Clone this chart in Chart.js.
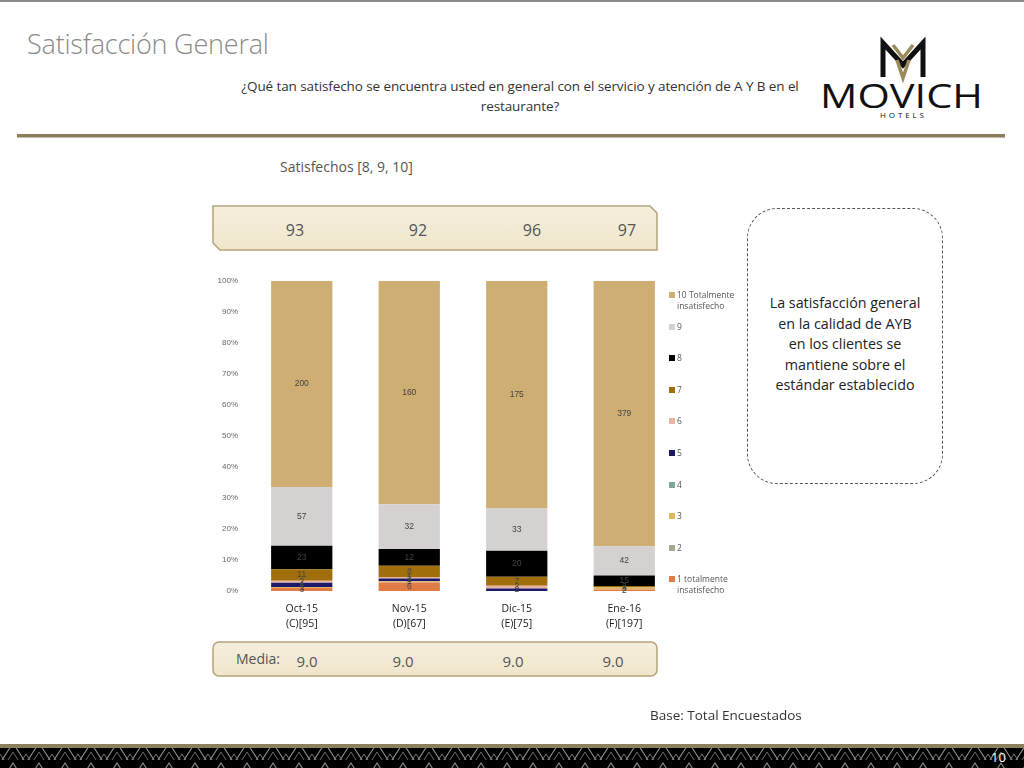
<!DOCTYPE html>
<html>
<head>
<meta charset="utf-8">
<script src="https://cdn.jsdelivr.net/npm/chart.js@4.4.1/dist/chart.umd.min.js"></script>
<style>
  html, body { margin: 0; padding: 0; background: #fff; }
  body { width: 1024px; height: 768px; position: relative; overflow: hidden; font-family: "Open Sans", sans-serif; }
  .abs { position: absolute; }
  #title { left: 27px; top: 25px; font-size: 27px; font-weight: 300; color: #8a8a8a; letter-spacing: -0.2px; }
  #question { left: 180px; top: 76px; width: 680px; text-align: center; font-size: 13.5px; line-height: 20px; color: #333; letter-spacing: -0.1px; }
  #satLabel { left: 280px; top: 157px; font-size: 14px; color: #555; }
  .topNum { top: 219px; font-size: 16px; color: #555; width: 40px; text-align: center; }
  .media { top: 651px; font-size: 15px; color: #555; width: 40px; text-align: center; }
  #mediaLbl { left: 236px; top: 649px; font-size: 14px; color: #555; }
  #chartBox { left: 200px; top: 266px; width: 480px; height: 374px; }
  #legend { left: 667px; top: 0; width: 70px; height: 768px; overflow: hidden; font-size: 8.5px; color: #555; line-height: 10.5px; }
  .lg { position: absolute; left: 0; width: 70px; white-space: nowrap; }
  .lg i { position: absolute; left: 2px; top: 2px; width: 6px; height: 6px; }
  .lg span { position: absolute; left: 10px; top: 0; }
  #note { left: 747px; top: 208px; width: 196px; height: 276px; border: 1.5px dashed #555; border-radius: 30px; box-sizing: border-box; }
  #noteText { left: 747px; top: 293px; width: 196px; text-align: center; font-size: 14.3px; line-height: 20.5px; color: #222; }
  #base { left: 650px; top: 706px; font-size: 13.5px; color: #333; }
  #pageNo { left: 991px; top: 748px; font-size: 13px; color: #fff; }
</style>
</head>
<body>
<svg class="abs" style="left:0;top:0" width="1024" height="768">
  <defs>
    <linearGradient id="cream" x1="0" y1="0" x2="0" y2="1">
      <stop offset="0" stop-color="#f4eedc"/>
      <stop offset="1" stop-color="#efe6cb"/>
    </linearGradient>
    <pattern id="zig" width="26" height="20" patternUnits="userSpaceOnUse">
      <rect width="26" height="20" fill="#000"/>
      <path d="M2,20 L13,3 L24,20" fill="none" stroke="#8a8a8a" stroke-width="1.2"/>
      <path d="M8,20 L13,12 L18,20" fill="none" stroke="#6a6a6a" stroke-width="1"/>
      <path d="M-4,20 L0,14 L4,20 M22,20 L26,14 L30,20" fill="none" stroke="#777" stroke-width="1"/>
    </pattern>
  </defs>
  <rect x="0" y="0" width="1024" height="2" fill="#8c8c8c"/>
  <rect x="17" y="134" width="988" height="3.5" fill="#8b7d58"/>
  <!-- logo -->
  <path d="M883,77 L883,43 L903,65 L923,43 L923,77" fill="none" stroke="#111" stroke-width="5" stroke-linejoin="miter"/>
  <path d="M893,45 L903,58 L913,45 M897,60 L903,78 L909,60" fill="none" stroke="#9c8a5c" stroke-width="3.5"/>
  <text x="820" y="108" font-family="Open Sans" font-size="33" fill="#111" textLength="163" lengthAdjust="spacingAndGlyphs">MOVICH</text>
  <text x="880" y="118" font-family="Open Sans" font-size="8" fill="#111" textLength="44" lengthAdjust="spacing">HOTELS</text>
  <!-- bands -->
  <polygon points="213,206 650,206 657,213 657,250 220,250 213,243" fill="url(#cream)" stroke="#b5a27a" stroke-width="1.5"/>
  <rect x="213" y="642" width="444" height="34" rx="6" fill="url(#cream)" stroke="#b5a27a" stroke-width="1.5"/>
  <!-- footer -->
  <rect x="0" y="744" width="1024" height="4" fill="#8c7f5c"/>
  <rect x="0" y="748" width="1024" height="20" fill="url(#zig)"/>
</svg>

<div id="title" class="abs">Satisfacción General</div>
<div id="question" class="abs">¿Qué tan satisfecho se encuentra usted en general con el servicio y atención de A Y B en el<br>restaurante?</div>
<div id="satLabel" class="abs">Satisfechos [8, 9, 10]</div>
<div id="mediaLbl" class="abs">Media:</div>
<div id="chartBox" class="abs"><canvas id="chart"></canvas></div>
<div id="legend" class="abs"></div>
<div id="note" class="abs"></div>
<div id="noteText" class="abs">La satisfacción general<br>en la calidad de AYB<br>en los clientes se<br>mantiene sobre el<br>estándar establecido</div>
<div id="base" class="abs">Base: Total Encuestados</div>
<div id="pageNo" class="abs">10</div>

<script>
// values (counts per answer, per wave)
const months = ['Oct-15', 'Nov-15', 'Dic-15', 'Ene-16'];
const bases = ['(C)[95]', '(D)[67]', '(E)[75]', '(F)[197]'];
const satisfechos = ['93', '92', '96', '97'];
const medias = ['9.0', '9.0', '9.0', '9.0'];

const v10 = [200, 160, 175, 379];
const v9 = [57, 32, 33, 42];
const v8 = [23, 12, 20, 15];
const v7 = [11, 8, 7, 2];
const v6 = [2, 1, 2, 0];
const v5 = [4, 2, 2, 0];
const v4 = [0, 0, 0, 0];
const v3 = [1, 1, 0, 3];
const v2 = [0, 0, 0, 0];
const v1 = [3, 6, 0, 2];

const seriesNames = ['1 totalmente insatisfecho', '2', '3', '4', '5', '6', '7', '8', '9', '10 Totalmente insatisfecho'];
const seriesColors = ['#e07b45', '#a3a98f', '#dfb866', '#7fa696', '#1b1a6a', '#e9b5a2', '#a06f0c', '#000000', '#d5d1d0', '#ceae72'];

const topX = [275, 398, 512, 607];
const mediaX = [287, 383, 493, 593];

function q(id){ return document.getElementById(id); }

topX.forEach((x, i) => {
  const d = document.createElement('div');
  d.className = 'abs topNum'; d.style.left = x + 'px'; d.textContent = satisfechos[i];
  document.body.appendChild(d);
});
mediaX.forEach((x, i) => {
  const d = document.createElement('div');
  d.className = 'abs media'; d.style.left = x + 'px'; d.textContent = medias[i];
  document.body.appendChild(d);
});

const counts = [v1, v2, v3, v4, v5, v6, v7, v8, v9, v10];
const totals = months.map((_, j) => counts.reduce((s, arr) => s + arr[j], 0));

const segLabels = {
  id: 'segLabels',
  afterDatasetsDraw(chart){
    const ctx = chart.ctx;
    ctx.save();
    ctx.font = '8.5px "Liberation Sans", sans-serif';
    ctx.fillStyle = '#444';
    ctx.textAlign = 'center';
    ctx.textBaseline = 'middle';
    chart.data.datasets.forEach((ds, i) => {
      chart.getDatasetMeta(i).data.forEach((bar, j) => {
        const n = ds.counts[j];
        if (!n) return;
        const p = bar.getCenterPoint();
        ctx.fillText(String(n), p.x, p.y);
      });
    });
    ctx.restore();
  }
};

const chart = new Chart(q('chart').getContext('2d'), {
  type: 'bar',
  data: {
    labels: months.map((m, j) => [m, bases[j]]),
    datasets: counts.map((arr, i) => ({
      label: seriesNames[i],
      data: arr.map((n, j) => n / totals[j] * 100),
      counts: arr,
      backgroundColor: seriesColors[i],
      borderWidth: 0,
      barPercentage: 0.57,
      categoryPercentage: 1
    }))
  },
  options: {
    responsive: true, maintainAspectRatio: false, animation: false,
    layout: { padding: { top: 7, right: 2, left: 0, bottom: 0 } },
    plugins: { legend: { display: false }, tooltip: { enabled: false } },
    scales: {
      x: {
        stacked: true,
        grid: { display: false, drawTicks: false },
        border: { display: false },
        ticks: { font: { family: 'Open Sans', size: 10.5, lineHeight: 1.4 }, color: '#222', padding: 11, maxRotation: 0 },
        afterFit: s => { s.height = 49; }
      },
      y: {
        stacked: true, min: 0, max: 100,
        grid: { display: false, drawTicks: false },
        border: { display: false },
        ticks: { stepSize: 10, callback: v => v + '%', font: { family: 'Liberation Sans', size: 8 }, color: '#666', padding: 10 },
        afterFit: s => { s.width = 48; }
      }
    }
  },
  plugins: [segLabels]
});

// legend, top item = last dataset
const lg = q('legend');
chart.data.datasets.slice().reverse().forEach((ds, k) => {
  const item = document.createElement('div');
  item.className = 'lg';
  item.style.top = (290 + k * 31.6) + 'px';
  const parts = ds.label.split(' ');
  const text = parts.length > 2 ? parts.slice(0, 2).join(' ') + '<br>' + parts.slice(2).join(' ') : ds.label;
  item.innerHTML = `<i style="background:${ds.backgroundColor}"></i><span>${text}</span>`;
  lg.appendChild(item);
});
</script>
</body>
</html>
